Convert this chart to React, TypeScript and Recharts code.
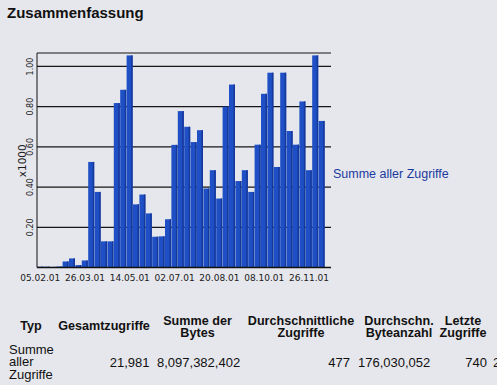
import React from 'react';
import { BarChart, Bar, XAxis, YAxis, CartesianGrid } from 'recharts';

// weekly access totals (x1000)
const weeks = [
  '05.02.01', '12.02.01', '19.02.01', '26.02.01', '05.03.01', '12.03.01', '19.03.01', '26.03.01',
  '02.04.01', '09.04.01', '16.04.01', '23.04.01', '30.04.01', '07.05.01', '14.05.01', '21.05.01',
  '28.05.01', '04.06.01', '11.06.01', '18.06.01', '25.06.01', '02.07.01', '09.07.01', '16.07.01',
  '23.07.01', '30.07.01', '06.08.01', '13.08.01', '20.08.01', '27.08.01', '03.09.01', '10.09.01',
  '17.09.01', '24.09.01', '01.10.01', '08.10.01', '15.10.01', '22.10.01', '29.10.01', '05.11.01',
  '12.11.01', '19.11.01', '26.11.01', '03.12.01', '10.12.01'
];

const zugriffe = [
  0.004, 0.004, 0.003, 0.005, 0.03, 0.045, 0.012, 0.035,
  0.525, 0.376, 0.13, 0.13, 0.818, 0.884, 1.055, 0.314,
  0.363, 0.269, 0.153, 0.155, 0.24, 0.61, 0.778, 0.70,
  0.624, 0.683, 0.393, 0.484, 0.343, 0.80, 0.91, 0.43,
  0.484, 0.376, 0.611, 0.864, 0.969, 0.50, 0.969, 0.679,
  0.611, 0.826, 0.484, 1.055, 0.729
];

const yTicks = [0, 0.1, 0.2, 0.3, 0.4, 0.5, 0.6, 0.7, 0.8, 0.9, 1.0];
const yLabelled = [0.2, 0.4, 0.6, 0.8, 1.0];

const seriesName = 'Summe aller Zugriffe';

const tableHeaders = [
  ['Typ'],
  ['Gesamtzugriffe'],
  ['Summe der', 'Bytes'],
  ['Durchschnittliche', 'Zugriffe'],
  ['Durchschn.', 'Byteanzahl'],
  ['Letzte', 'Zugriffe']
];
const rowLabel = ['Summe', 'aller', 'Zugriffe'];
const rowValues = ['21,981', '8,097,382,402', '477', '176,030,052', '740'];

const data = weeks.map((w, i) => ({ week: w, value: zugriffe[i] }));

const BLUE = '#1f4fc4';
const BLUE_DARK = '#15389a';
const PAPER = '#e6e7ec';

// whole page is the scanned paper colour
if (typeof document !== 'undefined') {
  document.body.style.margin = '0';
  document.body.style.background = PAPER;
}

const Bar3D = (props: any) => {
  const { x, y, width, height } = props;
  if (!height || height <= 0) return null;
  const side = Math.min(1.5, width / 3);
  return (
    <g>
      <rect x={x} y={y} width={width} height={height} fill={BLUE} />
      <rect x={x + width - side} y={y} width={side} height={height} fill={BLUE_DARK} />
    </g>
  );
};

const YTick = (props: any) => {
  const { y, payload } = props;
  const v = Math.round(payload.value * 100) / 100;
  if (!yLabelled.some(t => Math.abs(t - v) < 1e-6)) return null;
  return (
    <text
      x={33}
      y={y}
      transform={`rotate(-90, 33, ${y})`}
      textAnchor="middle"
      fontFamily="DejaVu Sans"
      fontSize={8}
      fill="#1a1a1a"
    >
      {v.toFixed(2)}
    </text>
  );
};

const XTick = (props: any) => {
  const { x, payload } = props;
  return (
    <text x={x} y={280.5} textAnchor="middle" fontFamily="DejaVu Sans" fontSize={9} fill="#1a1a1a">
      {payload.value}
    </text>
  );
};

// column centres of the summary table
const colX = [31, 104, 197.5, 301, 399, 463];

export default function App() {
  return (
    <div
      style={{
        position: 'absolute',
        left: 0,
        top: 0,
        width: 497,
        height: 385,
        background: PAPER,
        overflow: 'hidden',
        fontFamily: '"Liberation Sans", Arial, sans-serif'
      }}
    >
      <div style={{ position: 'absolute', left: 0, top: 0, width: 340, height: 290 }}>
        <BarChart
          width={340}
          height={290}
          data={data}
          margin={{ top: 53, right: 9, left: 0, bottom: 2.5 }}
          barCategoryGap={0}
          barGap={0}
        >
          <CartesianGrid vertical={false} stroke="#161616" strokeWidth={1.2} />
          <XAxis
            dataKey="week"
            interval={6}
            tickLine={false}
            axisLine={{ stroke: '#111', strokeWidth: 1.5 }}
            padding={{ left: 0, right: 6 }}
            height={20}
            tick={<XTick />}
          />
          <YAxis
            type="number"
            domain={[0, 1.067]}
            ticks={yTicks}
            width={37}
            tickLine={false}
            axisLine={{ stroke: '#111', strokeWidth: 1 }}
            tick={<YTick />}
          />
          <Bar dataKey="value" name={seriesName} fill={BLUE} shape={<Bar3D />} isAnimationActive={false} />
        </BarChart>
      </div>
      <svg
        width={497}
        height={385}
        style={{ position: 'absolute', left: 0, top: 0, pointerEvents: 'none' }}
      >
        <text x={7} y={18.3} fontSize={15} fontWeight="bold" fill="#111">
          Zusammenfassung
        </text>
        <text
          x={26.5}
          y={160.8}
          transform="rotate(-90, 26.5, 160.8)"
          textAnchor="middle"
          fontFamily="DejaVu Sans"
          fontSize={10.5}
          fill="#1a1a1a"
        >
          x1000
        </text>
        <text x={333} y={177.5} fontSize={12.5} fill="#1b3a9e">
          {seriesName}
        </text>
        {tableHeaders.map((lines, i) => (
          <text
            key={i}
            x={colX[i]}
            y={lines.length === 1 ? 330 : 325.3}
            fontSize={12.6}
            fontWeight="bold"
            textAnchor="middle"
            fill="#111"
          >
            {lines.map((l, j) => (
              <tspan key={j} x={colX[i]} dy={j === 0 ? 0 : 12}>
                {l}
              </tspan>
            ))}
          </text>
        ))}
        <text x={9} y={354} fontSize={13} fill="#111">
          {rowLabel.map((t, j) => (
            <tspan key={j} x={9} dy={j === 0 ? 0 : 12.3}>
              {t}
            </tspan>
          ))}
        </text>
        <text x={149.5} y={366.7} fontSize={13} textAnchor="end" fill="#111">{rowValues[0]}</text>
        <text x={157} y={366.7} fontSize={13} fill="#111">{rowValues[1]}</text>
        <text x={350} y={366.7} fontSize={13} textAnchor="end" fill="#111">{rowValues[2]}</text>
        <text x={358} y={366.7} fontSize={13} fill="#111">{rowValues[3]}</text>
        <text x={487} y={366.7} fontSize={13} textAnchor="end" fill="#111">{rowValues[4]}</text>
        <text x={493} y={366.7} fontSize={13} fill="#111">2</text>
      </svg>
    </div>
  );
}
